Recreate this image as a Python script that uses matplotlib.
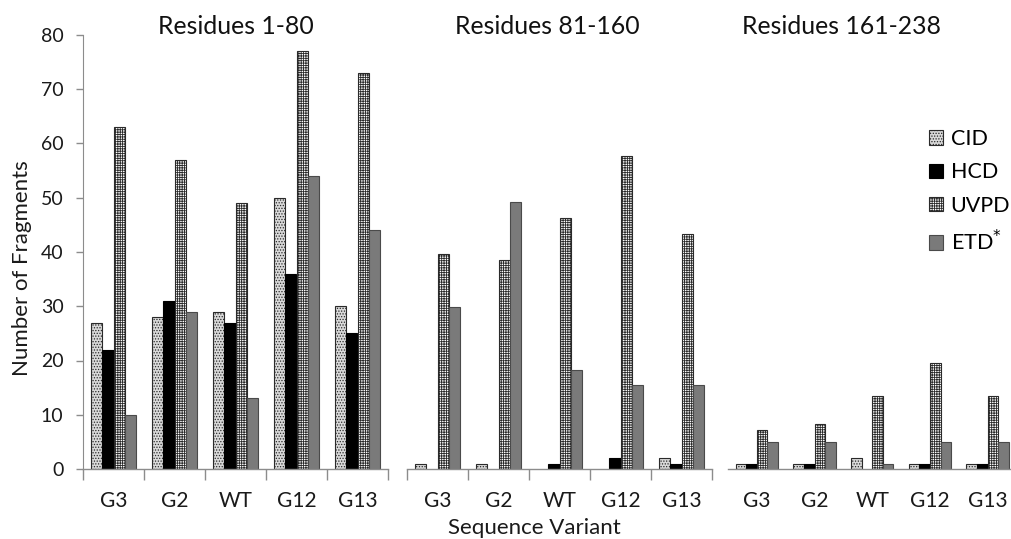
import matplotlib
matplotlib.use("Agg")
import matplotlib.pyplot as plt
from matplotlib.patches import Patch
import numpy as np

plt.rcParams['font.family'] = ['Lato', 'DejaVu Sans']
plt.rcParams['hatch.linewidth'] = 0.6

variants = ["G3", "G2", "WT", "G12", "G13"]
methods = ["CID", "HCD", "UVPD", "ETD$^{*}$"]
panel_titles = ["Residues 1-80", "Residues 81-160", "Residues 161-238"]

# fragment counts per region, one list per method (order follows `variants`)
cid_1_80 = [27, 28, 29, 50, 30]
hcd_1_80 = [22, 31, 27, 36, 25]
uvpd_1_80 = [63, 57, 49, 77, 73]
etd_1_80 = [10, 29, 13, 54, 44]

cid_81_160 = [1, 1, 0, 0, 2]
hcd_81_160 = [0, 0, 1, 2, 1]
uvpd_81_160 = [39.6, 38.6, 46.2, 57.7, 43.3]
etd_81_160 = [29.9, 49.2, 18.3, 15.4, 15.4]

cid_161_238 = [1, 1, 2, 1, 1]
hcd_161_238 = [1, 1, 0, 1, 1]
uvpd_161_238 = [7.2, 8.3, 13.4, 19.6, 13.4]
etd_161_238 = [5, 5, 1, 5, 5]

regions = [
    [cid_1_80, hcd_1_80, uvpd_1_80, etd_1_80],
    [cid_81_160, hcd_81_160, uvpd_81_160, etd_81_160],
    [cid_161_238, hcd_161_238, uvpd_161_238, etd_161_238],
]

styles = [
    dict(facecolor="#d9d9d9", hatch="......", edgecolor="#2a2a2a"),
    dict(facecolor="#000000", hatch=None, edgecolor="#000000"),
    dict(facecolor="#ffffff", hatch="+" * 7, edgecolor="#2a2a2a"),
    dict(facecolor="#7a7a7a", hatch=None, edgecolor="#4a4a4a"),
]

W, H = 1011, 539
fig = plt.figure(figsize=(W / 100, H / 100), dpi=100)

# axes boxes in pixels: (left, width); title centres in pixels
boxes = [(83, 305), (407, 305), (728, 288.5)]
title_x = [235.5, 547, 842]
bottom_px, top_px = 469, 35
x = np.arange(len(variants))
bw = 0.184
offsets = (np.arange(4) - 1.5) * bw
spine_color = "#8c8c8c"
text_color = "#1a1a1a"

for i, ((lpx, wpx), series) in enumerate(zip(boxes, regions)):
    ax = fig.add_axes([lpx / W, 1 - bottom_px / H, wpx / W, (bottom_px - top_px) / H])
    for s, vals, st in zip(range(4), series, styles):
        vals = np.asarray(vals, dtype=float)
        mask = vals > 0
        ax.bar(x[mask] + offsets[s], vals[mask], width=bw, facecolor=st["facecolor"],
               edgecolor=st["edgecolor"], hatch=st["hatch"], linewidth=0.8, zorder=2)
    ax.set_xlim(-0.5, len(variants) - 0.5)
    ax.set_ylim(0, 80)
    for sp in ["top", "right"]:
        ax.spines[sp].set_visible(False)
    ax.spines["bottom"].set_color(spine_color)
    ax.spines["bottom"].set_linewidth(1.0)
    if i == 0:
        ax.spines["left"].set_color(spine_color)
        ax.set_yticks(np.arange(0, 81, 10))
        ax.tick_params(axis="y", length=5, width=1, color=spine_color, pad=9,
                       labelsize=14, labelcolor=text_color)
    else:
        ax.spines["left"].set_visible(False)
        ax.set_yticks([])
    # category boundary ticks and centred labels
    if i < 2:
        ax.set_xticks(np.arange(-0.5, len(variants), 1.0))
        ax.tick_params(axis="x", which="major", length=8, width=1, color=spine_color,
                       labelbottom=False)
    else:
        ax.set_xticks([])
    ax.set_xticks(x, minor=True)
    ax.set_xticklabels(variants, minor=True)
    ax.tick_params(axis="x", which="minor", length=0, pad=16, labelsize=15,
                   labelcolor=text_color)
    fig.text(title_x[i] / W, 1 - 26 / H, panel_titles[i], ha="center", va="center",
             fontsize=17.8, color="#111111")

fig.text(22 / W, 1 - 268 / H, "Number of Fragments", rotation=90, ha="center",
         va="center", fontsize=16, color=text_color)
fig.text(534 / W, 1 - 528 / H, "Sequence Variant", ha="center", va="center",
         fontsize=16, color=text_color)

handles = [Patch(facecolor=st["facecolor"], edgecolor=st["edgecolor"], hatch=st["hatch"],
                 linewidth=0.8) for st in styles]
fig.legend(handles, methods, loc="upper left", bbox_to_anchor=(929 / W, 1 - 129 / H),
           frameon=False, fontsize=15.5, handlelength=0.65, handleheight=0.65,
           handletextpad=0.35, labelspacing=0.62, borderaxespad=0, borderpad=0)

fig.savefig("out.png", dpi=100)
